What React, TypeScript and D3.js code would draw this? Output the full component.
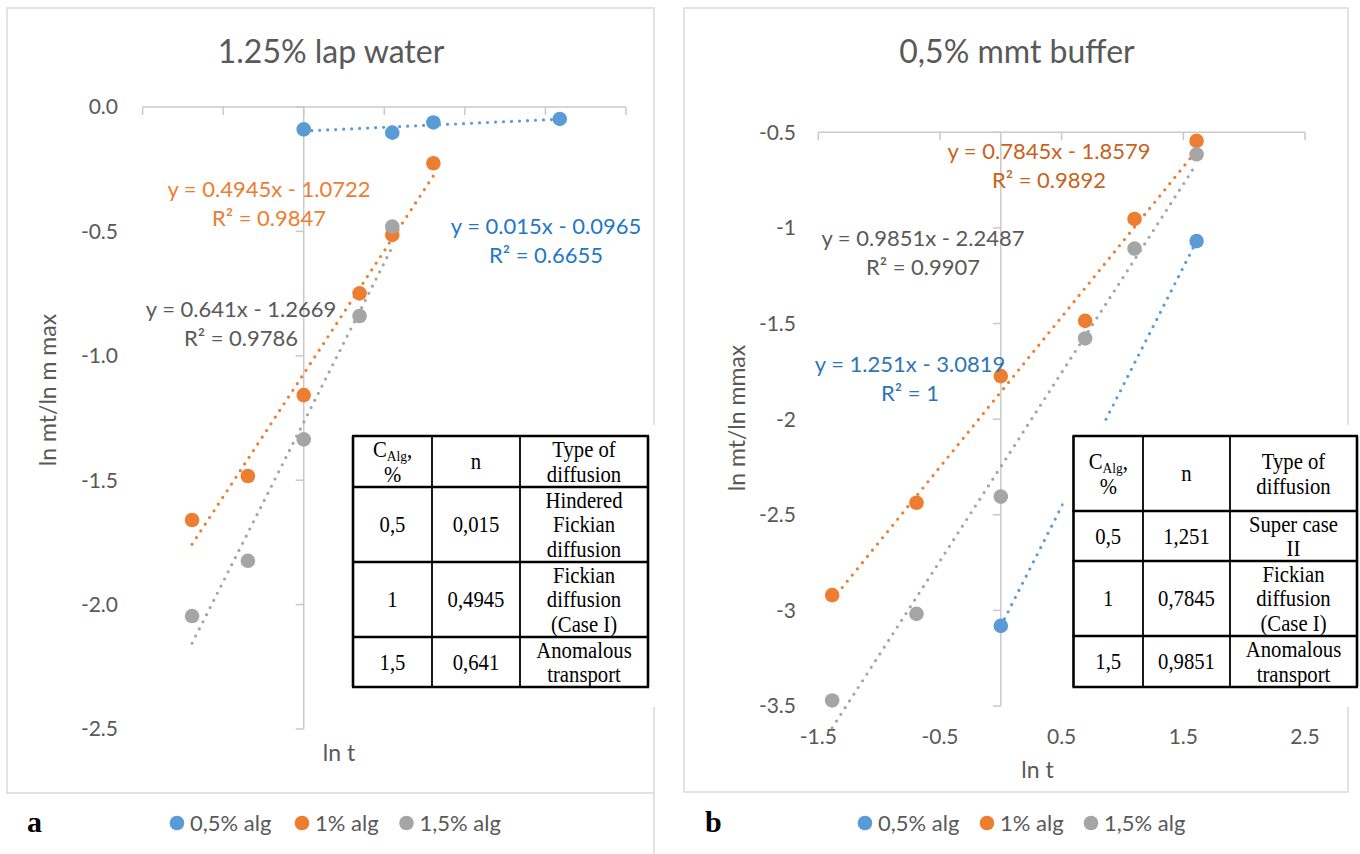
import React from 'react';
import * as d3 from 'd3';

// ---- data: panel a (1.25% lap water) ----
const aBlueX = [0, 1.099, 1.609, 3.178];
const aBlueY = [-0.09, -0.103, -0.062, -0.048];
const aOrangeX = [-1.386, -0.693, 0, 0.693, 1.099, 1.609];
const aOrangeY = [-1.66, -1.483, -1.158, -0.749, -0.514, -0.226];
const aGrayX = [-1.386, -0.693, 0, 0.693, 1.099];
const aGrayY = [-2.046, -1.824, -1.336, -0.84, -0.481];
const aFits = [
  { m: 0.015, b: -0.0965, r2: '0.6655' },
  { m: 0.4945, b: -1.0722, r2: '0.9847' },
  { m: 0.641, b: -1.2669, r2: '0.9786' },
];
const aYTicks = [0, -0.5, -1, -1.5, -2, -2.5];
const aXTicks = [-2, -1, 0, 1, 2, 3, 4];

// ---- data: panel b (0,5% mmt buffer) ----
const bBlueX = [0, 1.609];
const bBlueY = [-3.081, -1.069];
const bOrangeX = [-1.386, -0.693, 0, 0.693, 1.099, 1.609];
const bOrangeY = [-2.92, -2.437, -1.775, -1.486, -0.953, -0.545];
const bGrayX = [-1.386, -0.693, 0, 0.693, 1.099, 1.609];
const bGrayY = [-3.471, -3.018, -2.405, -1.578, -1.108, -0.615];
const bFits = [
  { m: 1.251, b: -3.0819, r2: '1' },
  { m: 0.7845, b: -1.8579, r2: '0.9892' },
  { m: 0.9851, b: -2.2487, r2: '0.9907' },
];
const bYTicks = [-0.5, -1, -1.5, -2, -2.5, -3, -3.5];
const bXTicks = [-1.5, -0.5, 0.5, 1.5, 2.5];

const seriesNames = ['0,5% alg', '1% alg', '1,5% alg'];
const seriesColors = ['#5b9bd5', '#ed7d31', '#a5a5a5'];

// tables
const aTableC = ['0,5', '1', '1,5'];
const aTableN = ['0,015', '0,4945', '0,641'];
const aTableType = [['Hindered', 'Fickian', 'diffusion'], ['Fickian', 'diffusion', '(Case I)'], ['Anomalous', 'transport']];
const bTableC = ['0,5', '1', '1,5'];
const bTableN = ['1,251', '0,7845', '0,9851'];
const bTableType = [['Super case', 'II'], ['Fickian', 'diffusion', '(Case I)'], ['Anomalous', 'transport']];

const FONT = "Lato, 'Open Sans', sans-serif";
const SERIF = "'Liberation Serif', 'Times New Roman', serif";
const TXT = '#595959';
const AXIS = '#c9c9c9';

function fmtEq(m: number, b: number) {
  return `y = ${m}x ${b < 0 ? '-' : '+'} ${Math.abs(b)}`;
}

type Cfg = {
  title: string; titleX: number;
  box: [number, number, number, number];
  xDomain: [number, number]; xRange: [number, number];
  yDomain: [number, number]; yRange: [number, number];
  xTicks: number[]; yTicks: number[]; yFmt: (v: number) => string; showXLabels: boolean;
  yLabelX: number; xLabelY: number;
  yTitle: string; yTitlePos: [number, number]; xTitlePos: [number, number];
  xs: number[][]; ys: number[][];
  fits: { m: number; b: number; r2: string }[];
  fitPos: [number, number][]; fitColors: string[];
  table: { cols: number[]; rows: number[]; c: string[]; n: string[]; type: string[][] };
  legendX: number[]; letter: string; letterX: number;
};

// squeezed serif text, like the pasted table image
const TT: React.FC<{ x: number; y: number; children: React.ReactNode }> = ({ x, y, children }) => (
  <g transform={`translate(${x},${y}) scale(0.9,1)`}>
    <text x={0} y={0} dy="0.34em" textAnchor="middle">{children}</text>
  </g>
);

const Panel: React.FC<{ c: Cfg }> = ({ c }) => {
  const x = d3.scaleLinear().domain(c.xDomain).range(c.xRange);
  const y = d3.scaleLinear().domain(c.yDomain).range(c.yRange);
  const x0 = x(0);
  const yTop = y(c.yDomain[1]);
  const yBot = y(c.yDomain[0]);
  const line = d3.line<[number, number]>().x(d => x(d[0])).y(d => y(d[1]));
  const t = c.table;
  const tL = t.cols[0], tR = t.cols[t.cols.length - 1];
  const tT = t.rows[0], tB = t.rows[t.rows.length - 1];

  const cellLines = (lines: string[], cx: number, top: number, bot: number) => {
    const lh = 24.5;
    const mid = (top + bot) / 2;
    return lines.map((s, i) => (
      <TT key={i} x={cx} y={mid + (i - (lines.length - 1) / 2) * lh}>{s}</TT>
    ));
  };

  return (
    <g>
      <rect x={c.box[0]} y={c.box[1]} width={c.box[2]} height={c.box[3]} fill="#fff" stroke="#d9d9d9" strokeWidth={1.5} />
      <text x={c.titleX} y={52} dy="0.35em" textAnchor="middle" fontSize={32} fill={TXT} fontFamily={FONT}>{c.title}</text>

      {/* axes */}
      <line x1={c.xRange[0]} x2={c.xRange[1]} y1={yTop} y2={yTop} stroke={AXIS} strokeWidth={1.5} />
      {c.xTicks.map(v => (
        <line key={v} x1={x(v)} x2={x(v)} y1={yTop} y2={yTop + 8} stroke={AXIS} strokeWidth={1.5} />
      ))}
      <line x1={x0} x2={x0} y1={yTop} y2={yBot} stroke={AXIS} strokeWidth={1.5} />
      {c.yTicks.map(v => (
        <line key={v} x1={x0 - 8} x2={x0} y1={y(v)} y2={y(v)} stroke={AXIS} strokeWidth={1.5} />
      ))}
      {c.yTicks.map(v => (
        <text key={v} x={c.yLabelX} y={y(v)} dy="0.35em" textAnchor="end" fontSize={21} fill={TXT} fontFamily={FONT}>{c.yFmt(v)}</text>
      ))}
      {c.showXLabels && c.xTicks.map(v => (
        <text key={v} x={x(v)} y={c.xLabelY} dy="0.35em" textAnchor="middle" fontSize={21} fill={TXT} fontFamily={FONT}>{String(v)}</text>
      ))}
      <text transform={`translate(${c.yTitlePos[0]},${c.yTitlePos[1]}) rotate(-90)`} dy="0.35em" textAnchor="middle" fontSize={23} fill={TXT} fontFamily={FONT}>{c.yTitle}</text>
      <text x={c.xTitlePos[0]} y={c.xTitlePos[1]} dy="0.35em" textAnchor="middle" fontSize={23} fill={TXT} fontFamily={FONT}>ln t</text>

      {/* trendlines */}
      {c.fits.map((f, i) => {
        const lo = d3.min(c.xs[i])!, hi = d3.max(c.xs[i])!;
        return (
          <path key={i} d={line([[lo, f.m * lo + f.b], [hi, f.m * hi + f.b]])!} stroke={seriesColors[i]} strokeWidth={3.2}
            strokeDasharray="0 8" strokeLinecap="round" fill="none" />
        );
      })}
      {/* points */}
      {c.xs.map((xs, i) => xs.map((v, j) => (
        <circle key={`${i}-${j}`} cx={x(v)} cy={y(c.ys[i][j])} r={7.3} fill={seriesColors[i]} />
      )))}
      {/* trendline labels */}
      {c.fits.map((f, i) => (
        <g key={i} fontFamily={FONT} fontSize={22} fill={c.fitColors[i]} textAnchor="middle">
          <text x={c.fitPos[i][0]} y={c.fitPos[i][1]} dy="0.35em">{fmtEq(f.m, f.b)}</text>
          <text x={c.fitPos[i][0]} y={c.fitPos[i][1] + 29} dy="0.35em">{`R² = ${f.r2}`}</text>
        </g>
      ))}

      {/* table */}
      <rect x={tL - 10} y={425} width={tR - tL + 20} height={282} fill="#fff" />
      <g fontFamily={SERIF} fontSize={23} fill="#000">
        {t.rows.map((ry, i) => (
          <line key={i} x1={tL - 1} x2={tR + 1} y1={ry} y2={ry} stroke="#000" strokeWidth={2.6} />
        ))}
        {t.cols.map((cx, i) => (
          <line key={i} x1={cx} x2={cx} y1={tT} y2={tB} stroke="#000" strokeWidth={i === 0 || i === t.cols.length - 1 ? 2.6 : 1.8} />
        ))}
        <TT x={(t.cols[0] + t.cols[1]) / 2} y={(t.rows[0] + t.rows[1]) / 2 - 12}>
          C<tspan fontSize={15} dy="4">Alg</tspan><tspan dy="-4">,</tspan>
        </TT>
        <TT x={(t.cols[0] + t.cols[1]) / 2} y={(t.rows[0] + t.rows[1]) / 2 + 13}>%</TT>
        {cellLines(['n'], (t.cols[1] + t.cols[2]) / 2, t.rows[0], t.rows[1])}
        {cellLines(['Type of', 'diffusion'], (t.cols[2] + t.cols[3]) / 2, t.rows[0], t.rows[1])}
        {t.c.map((v, i) => (
          <g key={i}>
            {cellLines([v], (t.cols[0] + t.cols[1]) / 2, t.rows[i + 1], t.rows[i + 2])}
            {cellLines([t.n[i]], (t.cols[1] + t.cols[2]) / 2, t.rows[i + 1], t.rows[i + 2])}
            {cellLines(t.type[i], (t.cols[2] + t.cols[3]) / 2, t.rows[i + 1], t.rows[i + 2])}
          </g>
        ))}
      </g>

      {/* legend */}
      {seriesNames.map((s, i) => (
        <g key={s}>
          <circle cx={c.legendX[i]} cy={823} r={7.3} fill={seriesColors[i]} />
          <text x={c.legendX[i] + 13} y={823} dy="0.35em" fontSize={22} fill={TXT} fontFamily={FONT}>{s}</text>
        </g>
      ))}
      <text x={c.letterX} y={832} fontSize={30} fontWeight="bold" fontFamily={SERIF} fill="#000">{c.letter}</text>
    </g>
  );
};

const panelA: Cfg = {
  title: '1.25% lap water', titleX: 331,
  box: [7, 8, 647, 785],
  xDomain: [-2, 4], xRange: [142.6, 626],
  yDomain: [-2.5, 0], yRange: [729, 107],
  xTicks: aXTicks, yTicks: aYTicks, yFmt: v => v.toFixed(1), showXLabels: false,
  yLabelX: 118, xLabelY: 0,
  yTitle: 'ln mt/ln m max', yTitlePos: [48, 390], xTitlePos: [339, 753],
  xs: [aBlueX, aOrangeX, aGrayX], ys: [aBlueY, aOrangeY, aGrayY],
  fits: aFits,
  fitPos: [[546, 226], [269, 189], [241, 309]],
  fitColors: ['#1f77c8', '#ed7d31', TXT],
  table: { cols: [353, 432, 520, 648], rows: [436, 487, 562, 637, 687], c: aTableC, n: aTableN, type: aTableType },
  legendX: [177, 302, 406.5], letter: 'a', letterX: 27,
};

const panelB: Cfg = {
  title: '0,5%  mmt buffer', titleX: 1017,
  box: [684, 8, 664, 784],
  xDomain: [-1.5, 2.5], xRange: [818.3, 1305],
  yDomain: [-3.5, -0.5], yRange: [706, 132.3],
  xTicks: bXTicks, yTicks: bYTicks, yFmt: v => String(v), showXLabels: true,
  yLabelX: 796, xLabelY: 737,
  yTitle: 'ln mt/ln mmax', yTitlePos: [736.5, 418], xTitlePos: [1037.5, 770],
  xs: [bBlueX, bOrangeX, bGrayX], ys: [bBlueY, bOrangeY, bGrayY],
  fits: bFits,
  fitPos: [[910, 364], [1049, 151], [923, 238]],
  fitColors: ['#2e75b6', '#c8621c', TXT],
  table: { cols: [1073.5, 1143, 1230, 1357], rows: [436, 511, 561, 636, 687], c: bTableC, n: bTableN, type: bTableType },
  legendX: [865, 987, 1091], letter: 'b', letterX: 705,
};

export default function App() {
  return (
    <svg width={1360} height={854} style={{ position: 'absolute', left: 0, top: 0, background: '#fff' }}>
      <rect width={1360} height={854} fill="#fff" />
      <line x1={654} x2={654} y1={793} y2={854} stroke="#d9d9d9" strokeWidth={1.5} />
      <Panel c={panelA} />
      <Panel c={panelB} />
    </svg>
  );
}
